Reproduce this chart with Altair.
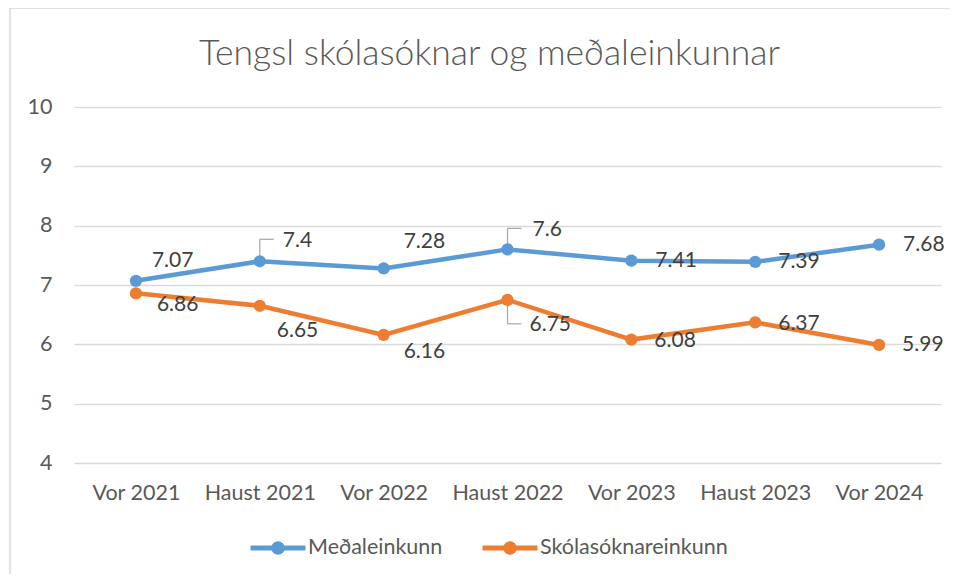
import altair as alt
import pandas as pd

categories = ["Vor 2021", "Haust 2021", "Vor 2022", "Haust 2022", "Vor 2023", "Haust 2023", "Vor 2024"]
medaleinkunn = [7.07, 7.4, 7.28, 7.6, 7.41, 7.39, 7.68]
skolasokn = [6.86, 6.65, 6.16, 6.75, 6.08, 6.37, 5.99]
series_names = ["Meðaleinkunn", "Skólasóknareinkunn"]
series_colors = ["#5B9BD5", "#ED7D31"]
y_ticks = [4, 5, 6, 7, 8, 9, 10]

rows = []
for cat, a, b in zip(categories, medaleinkunn, skolasokn):
    rows.append({"cat": cat, "series": series_names[0], "value": a})
    rows.append({"cat": cat, "series": series_names[1], "value": b})
df = pd.DataFrame(rows)

FONT = "Lato"
W, H = 867, 356
TICK_FS = 21.5
LABEL_FS = 21

label_style = {
    (0, "Vor 2021"): (16, -20), (0, "Haust 2021"): (23, -20), (0, "Vor 2022"): (20, -26),
    (0, "Haust 2022"): (25, -19), (0, "Vor 2023"): (24, 0), (0, "Haust 2023"): (23, 0),
    (0, "Vor 2024"): (24, 0),
    (1, "Vor 2021"): (21, 12), (1, "Haust 2021"): (17, 25), (1, "Vor 2022"): (20, 17),
    (1, "Haust 2022"): (22, 25), (1, "Vor 2023"): (23, 1), (1, "Haust 2023"): (23, 2),
    (1, "Vor 2024"): (23, 0),
}
leaders = [(0, "Haust 2021", -22, 14), (0, "Haust 2022", -21, 14), (1, "Haust 2022", 24, 14)]

xscale = alt.Scale(type="point", padding=0.5)
yscale = alt.Scale(domain=[4, 10], nice=False, zero=False)
x_enc = alt.X("cat:N", sort=categories, scale=xscale,
              axis=alt.Axis(title=None, domain=False, ticks=False, grid=False, labelAngle=0,
                            labelFont=FONT, labelFontSize=TICK_FS, labelColor="#595959", labelPadding=19))
y_enc = alt.Y("value:Q", scale=yscale,
              axis=alt.Axis(title=None, domain=False, ticks=False, values=y_ticks, grid=True, format="d",
                            gridColor="#d9d9d9", gridWidth=1.3, labelFont=FONT, labelFontSize=TICK_FS,
                            labelColor="#595959", labelPadding=22))
color_enc = alt.Color("series:N", sort=series_names,
                      scale=alt.Scale(domain=series_names, range=series_colors),
                      legend=alt.Legend(title=None, orient="none", direction="horizontal",
                                        legendX=174, legendY=411,
                                        symbolType="M-1,0 H1 M-0.16,0 A0.16,0.16 0 1,0 0.16,0 A0.16,0.16 0 1,0 -0.16,0 M-0.07,0 A0.07,0.07 0 1,0 0.07,0 A0.07,0.07 0 1,0 -0.07,0",
                                        symbolSize=3025, symbolStrokeWidth=4.8,
                                        labelFont=FONT, labelLimit=400,
                                        labelFontSize=TICK_FS, labelColor="#595959", labelOffset=0,
                                        columnPadding=29))

border = alt.Chart(pd.DataFrame({"a": [0]})).mark_rect(
    fillOpacity=0, stroke="#d9d9d9", strokeWidth=1.5, clip=False
).encode(x=alt.value(-64), x2=alt.value(W + 60), y=alt.value(-99), y2=alt.value(H + 160))

base = alt.Chart(df)
lines = base.mark_line(strokeWidth=4.5).encode(x=x_enc, y=y_enc, color=color_enc)
points = base.mark_circle(size=150, opacity=1).encode(x=x_enc, y=y_enc, color=alt.Color("series:N", sort=series_names))

leader_layers = []
for si, cat, vlen, hlen in leaders:
    sub = base.transform_filter(
        (alt.datum.series == series_names[si]) & (alt.datum.cat == cat))
    leader_layers.append(sub.mark_rule(color="#a6a6a6", strokeWidth=1.2, y2Offset=vlen).encode(
        x=alt.X("cat:N", sort=categories, scale=xscale), y=alt.Y("value:Q", scale=yscale), y2="value:Q"))
    leader_layers.append(sub.mark_rule(color="#a6a6a6", strokeWidth=1.2, yOffset=vlen, x2Offset=hlen).encode(
        x=alt.X("cat:N", sort=categories, scale=xscale), x2="cat:N", y=alt.Y("value:Q", scale=yscale)))

label_layers = []
for (si, cat), (dx, dy) in label_style.items():
    sub = base.transform_filter(
        (alt.datum.series == series_names[si]) & (alt.datum.cat == cat))
    label_layers.append(sub.mark_text(align="left", baseline="middle", dx=dx, dy=dy, font=FONT,
                                      fontSize=LABEL_FS, color="#404040").encode(
        x=alt.X("cat:N", sort=categories, scale=xscale), y=alt.Y("value:Q", scale=yscale),
        text="value:Q"))

chart = alt.layer(border, lines, *leader_layers, points, *label_layers).properties(
    width=W, height=H,
    title=alt.TitleParams("Tengsl skólasóknar og meðaleinkunnar", font=FONT, fontSize=35.5,
                          fontWeight=300, color="#595959", anchor="middle", offset=0,
                          baseline="middle", dy=82, dx=-18),
    autosize=alt.AutoSizeParams(type="none"),
    padding={"left": 66, "top": 99, "right": 9, "bottom": 111},
).configure(background="white").configure_view(stroke=None)

chart.save("out.html", embed_options={"renderer": "svg", "actions": False})
